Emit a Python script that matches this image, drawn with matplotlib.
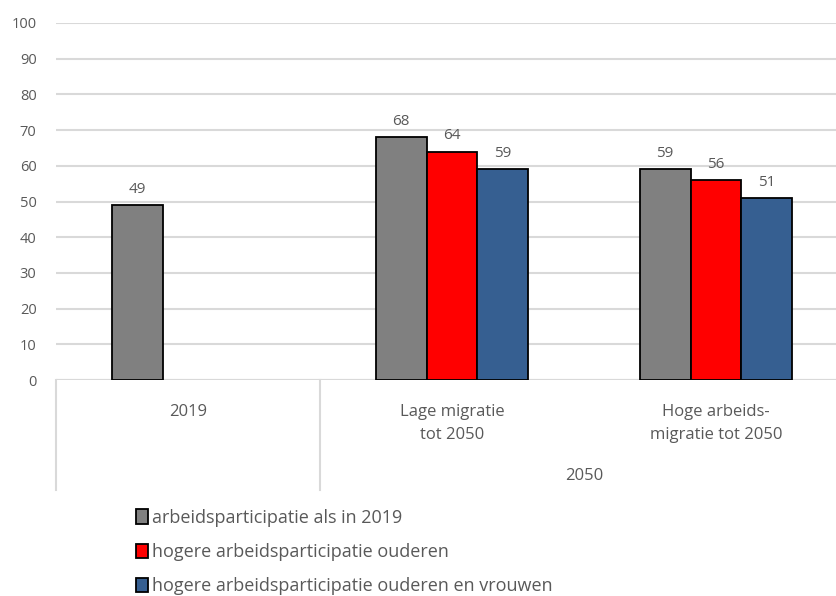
#!/usr/bin/env python3
"""
Arbeidsparticipatie scenarios: 2019 vs two 2050 migration scenarios.
Grouped bars, Excel-style two-level category axis, legend underneath.
"""
import matplotlib
matplotlib.use("Agg")
import matplotlib.pyplot as plt
from matplotlib.patches import Patch
import numpy as np

# ── Data ──────────────────────────────────────────────────────────────────────
CATEGORIES = ["2019", "Lage migratie\ntot 2050", "Hoge arbeids-\nmigratie tot 2050"]
GROUP_LABEL = "2050"

SERIES_NAMES = [
    "arbeidsparticipatie als in 2019",
    "hogere arbeidsparticipatie ouderen",
    "hogere arbeidsparticipatie ouderen en vrouwen",
]
ALS_2019 = [49, 68, 59]
OUDEREN = [np.nan, 64, 56]
OUDEREN_VROUWEN = [np.nan, 59, 51]

YTICKS = list(range(0, 101, 10))

COLORS = ["#808080", "#FF0000", "#365F91"]
TEXT = "#595959"
GRID = "#D9D9D9"
# ──────────────────────────────────────────────────────────────────────────────

plt.rcParams["font.family"] = ["Open Sans", "DejaVu Sans"]

fig = plt.figure(figsize=(8.37, 5.96), dpi=100)
# axes runs a bit past the right edge on purpose: the original is cropped there
ax = fig.add_axes([56 / 837, 216 / 596, 792 / 837, 357 / 596])

x = np.arange(len(CATEGORIES))
width = 0.193
series = [ALS_2019, OUDEREN, OUDEREN_VROUWEN]

for i, (vals, color) in enumerate(zip(series, COLORS)):
    offs = (i - 1) * width
    bars = ax.bar(x + offs, vals, width, color=color, edgecolor="black",
                  linewidth=1.3, zorder=3)
    for b, v in zip(bars, vals):
        if np.isnan(v):
            continue
        ax.text(b.get_x() + b.get_width() / 2, v + 2.3, f"{v:g}",
                ha="center", va="bottom", fontsize=11, color=TEXT)

ax.set_xlim(-0.5, 2.5)
ax.set_ylim(0, 100)
ax.set_yticks(YTICKS)
ax.tick_params(axis="y", length=0, pad=14, labelsize=10.5, labelcolor=TEXT)
ax.grid(axis="y", color=GRID, linewidth=1.5, zorder=0)

for s in ax.spines.values():
    s.set_visible(False)

# category axis: line at zero plus separators hanging below
ax.axhline(0, color=GRID, linewidth=1.5, zorder=2)
xt = ax.get_xaxis_transform()
for sep in (-0.5, 0.5):
    ax.plot([sep, sep], [0, -110 / 357], color=GRID, linewidth=1.5,
            transform=xt, clip_on=False)

ax.set_xticks(x)
ax.set_xticklabels(CATEGORIES, fontsize=12, color=TEXT, linespacing=1.6)
ax.tick_params(axis="x", length=0, pad=17)
ax.text(1.5, -96 / 357, GROUP_LABEL, transform=xt, ha="center", va="center",
        fontsize=12, color=TEXT)

# legend sits low like the original, squeezed just enough to stay on the canvas
handles = [Patch(facecolor=c, edgecolor="black", linewidth=1.3) for c in COLORS]
fig.legend(handles, SERIES_NAMES, loc="upper left",
           bbox_to_anchor=(125 / 837, 1 - 498 / 596), frameon=False,
           fontsize=13, labelcolor=TEXT, handlelength=0.7, handleheight=0.85,
           handletextpad=0.2, labelspacing=0.9, borderaxespad=0.2)

fig.savefig("out.png", dpi=100)
